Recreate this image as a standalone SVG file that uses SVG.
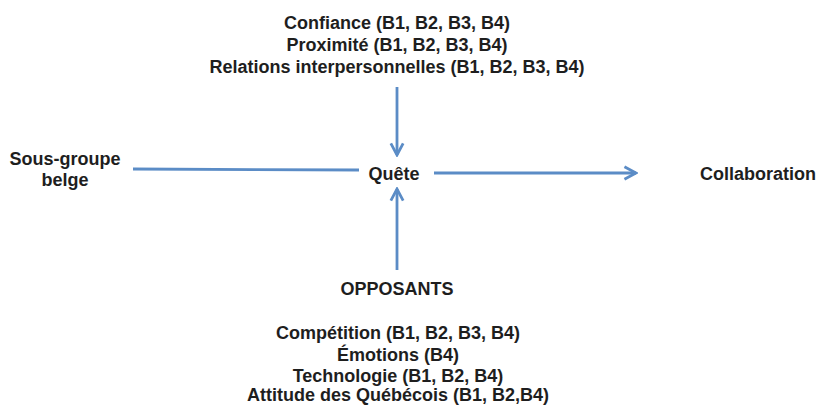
<svg xmlns="http://www.w3.org/2000/svg" width="818" height="406" viewBox="0 0 818 406">
<defs>
<marker id="ah" viewBox="0 0 10 10" refX="9" refY="5" markerWidth="5.5" markerHeight="5.5" orient="auto" markerUnits="strokeWidth">
<path d="M1.5,1 L9,5 L1.5,9" fill="none" stroke="#5b8cc6" stroke-width="1.8" stroke-linejoin="miter"/>
</marker>
<style>
text{font-family:"Liberation Sans",Arial,sans-serif;font-weight:bold;font-size:18px;fill:#1e1e1e;text-anchor:middle}
.c{stroke:#5b8cc6;stroke-width:2.8;fill:none}
</style>
</defs>
<rect width="818" height="406" fill="#ffffff"/>
<g id="adjuvants">
<text x="397" y="29">Confiance (B1, B2, B3, B4)</text>
<text x="397" y="51">Proximité (B1, B2, B3, B4)</text>
<text x="397" y="73">Relations interpersonnelles (B1, B2, B3, B4)</text>
</g>
<g id="sujet">
<text x="65" y="165">Sous-groupe</text>
<text x="65" y="186">belge</text>
</g>
<g id="quete">
<text x="394" y="180">Quête</text>
</g>
<g id="objet">
<text x="758" y="180">Collaboration</text>
</g>
<g id="opposants-titre">
<text x="397" y="295">OPPOSANTS</text>
</g>
<g id="opposants">
<text x="398" y="339">Compétition (B1, B2, B3, B4)</text>
<text x="398" y="361">Émotions (B4)</text>
<text x="398" y="382">Technologie (B1, B2, B4)</text>
<text x="398" y="401">Attitude des Québécois (B1, B2,B4)</text>
</g>
<g id="connecteurs">
<line class="c" x1="397" y1="87" x2="397" y2="155" marker-end="url(#ah)"/>
<line class="c" x1="133" y1="169" x2="359" y2="170"/>
<line class="c" x1="434" y1="173" x2="636" y2="173" marker-end="url(#ah)"/>
<line class="c" x1="397" y1="270" x2="397" y2="189" marker-end="url(#ah)"/>
</g>
</svg>
